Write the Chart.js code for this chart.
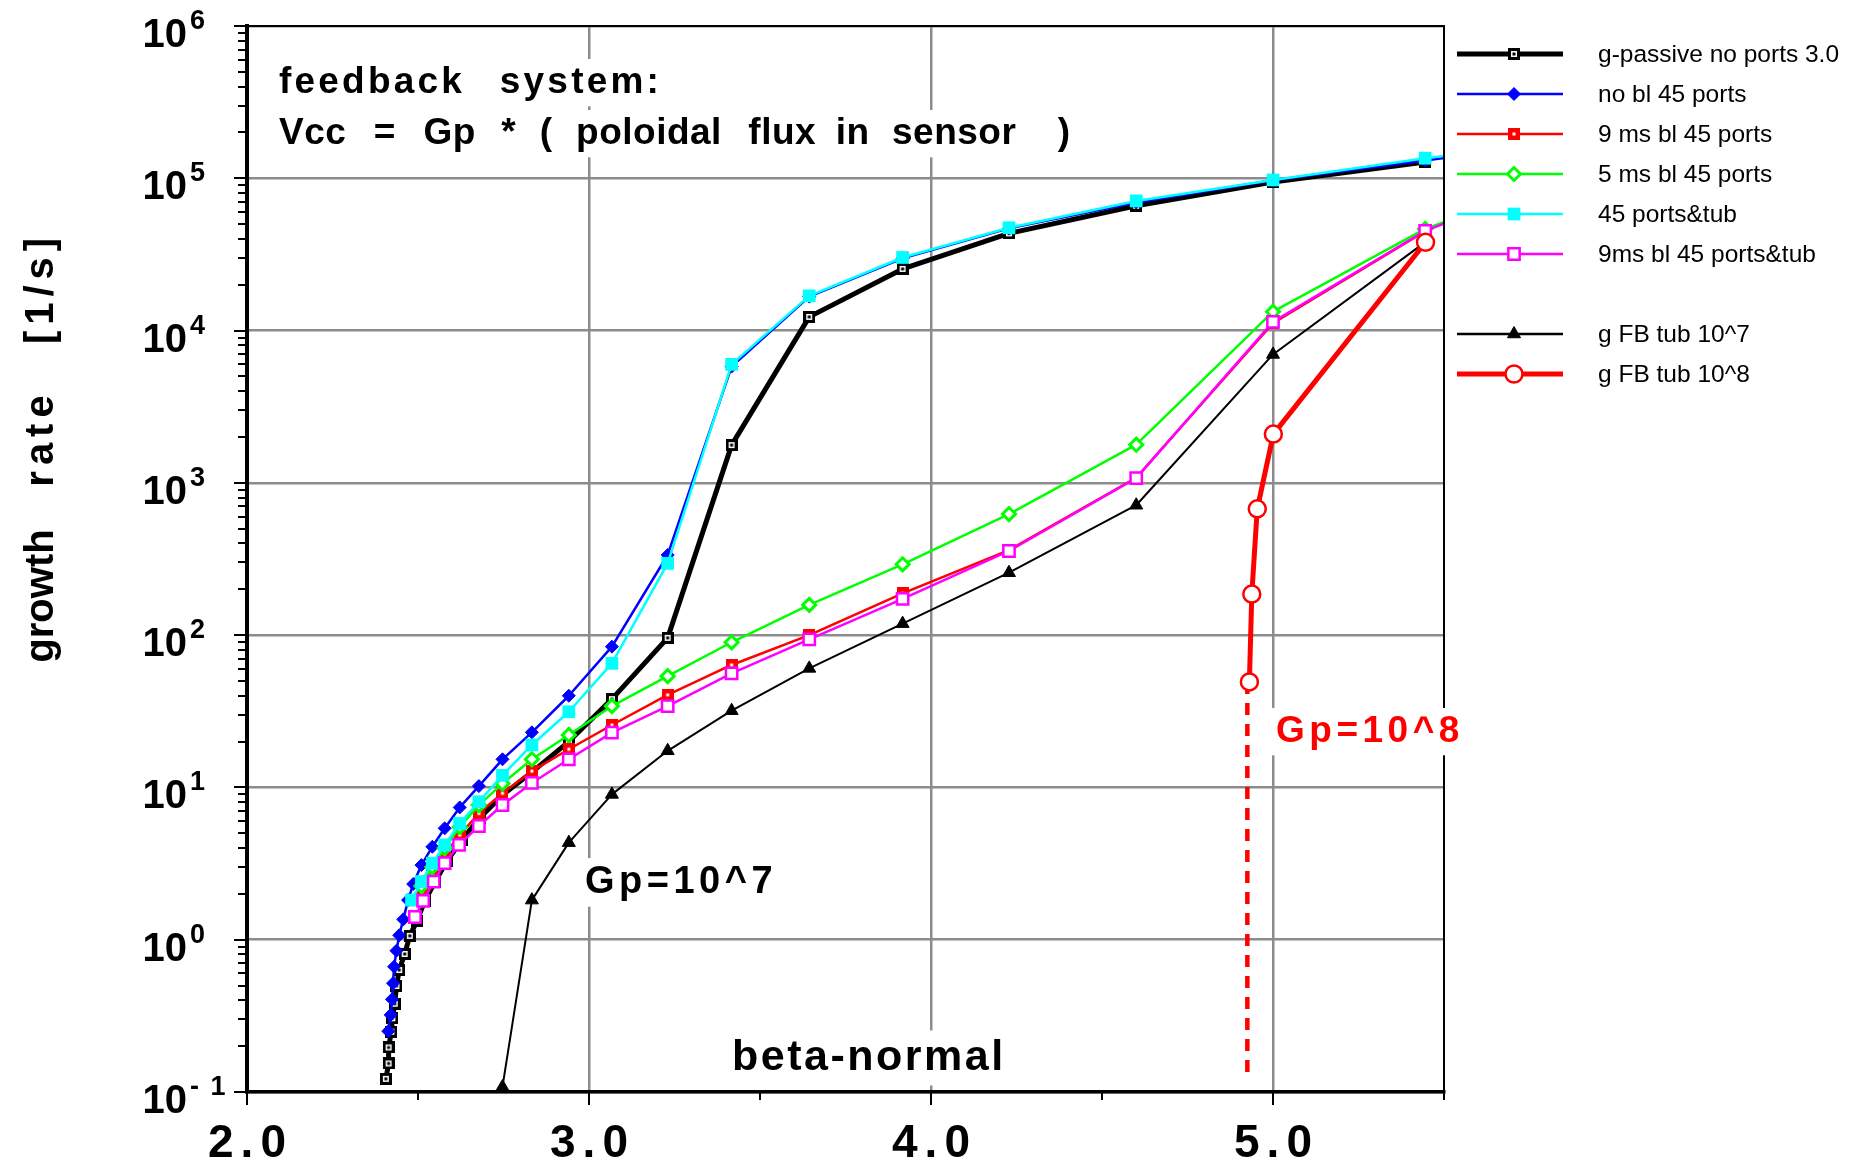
<!DOCTYPE html>
<html>
<head>
<meta charset="utf-8">
<script src="https://cdn.jsdelivr.net/npm/chart.js@4.4.1/dist/chart.umd.min.js"></script>
<style>
html,body{margin:0;padding:0;background:#fff;}
#wrap{width:1864px;height:1162px;position:relative;}
</style>
</head>
<body>
<div id="wrap"><canvas id="c"></canvas></div>
<script>
// ---------------- DATA ----------------
const seriesLabels = [
  'g-passive no ports 3.0',
  'no bl 45 ports',
  '9 ms bl 45 ports',
  '5 ms bl 45 ports',
  '45 ports&tub',
  '9ms bl 45 ports&tub',
  'g FB tub 10^7',
  'g FB tub 10^8'
];

const passiveX = [2.406, 2.414, 2.414, 2.422, 2.425, 2.432, 2.437, 2.445, 2.461, 2.476, 2.497, 2.52, 2.55, 2.585, 2.628, 2.68, 2.747, 2.833, 2.941, 3.067, 3.23, 3.417, 3.644, 3.917, 4.228, 4.6, 5.0, 5.445];
const passiveY = [0.122, 0.154, 0.196, 0.249, 0.305, 0.38, 0.497, 0.632, 0.806, 1.06, 1.33, 1.8, 2.4, 3.3, 4.5, 6.3, 8.9, 12.6, 20, 38, 96, 1770, 12300, 25400, 43500, 66000, 94500, 128000];

const noblX = [2.413, 2.42, 2.424, 2.427, 2.43, 2.437, 2.445, 2.457, 2.471, 2.486, 2.51, 2.542, 2.578, 2.622, 2.678, 2.747, 2.833, 2.941, 3.067, 3.23, 3.417, 3.644, 3.917, 4.228, 4.6, 5.0, 5.445, 5.9];
const noblY = [0.251, 0.321, 0.406, 0.518, 0.665, 0.847, 1.07, 1.36, 1.82, 2.32, 3.09, 4.08, 5.39, 7.39, 10.2, 15.3, 23, 40, 84, 336, 5800, 16700, 29800, 46900, 69300, 97000, 131000, 175000];

const bl9X = [2.512, 2.542, 2.578, 2.622, 2.678, 2.747, 2.833, 2.941, 3.067, 3.23, 3.417, 3.644, 3.917, 4.228, 4.6, 5.0, 5.445];
const bl9Y = [2.07, 2.66, 3.66, 4.87, 6.76, 9.15, 12.8, 17.8, 25.7, 40.5, 63.7, 100, 188, 362, 1080, 11200, 45000];

const bl5X = [2.51, 2.542, 2.578, 2.622, 2.678, 2.747, 2.833, 2.941, 3.067, 3.23, 3.417, 3.644, 3.917, 4.228, 4.6, 5.0, 5.445, 5.9];
const bl5Y = [2.25, 3.0, 4.0, 5.5, 7.66, 10.6, 15.3, 22.1, 34.2, 53.8, 89.8, 158, 292, 624, 1780, 13300, 46500, 110000];

const tubX = [2.481, 2.51, 2.542, 2.578, 2.622, 2.678, 2.747, 2.833, 2.941, 3.067, 3.23, 3.417, 3.644, 3.917, 4.228, 4.6, 5.0, 5.445, 5.9];
const tubY = [1.82, 2.41, 3.18, 4.19, 5.8, 8.05, 12.0, 19, 31.4, 65.3, 296, 6000, 16900, 30200, 47300, 71000, 97500, 135500, 180000];

const bl9tubX = [2.491, 2.515, 2.546, 2.578, 2.62, 2.678, 2.747, 2.833, 2.941, 3.067, 3.23, 3.417, 3.644, 3.917, 4.228, 4.6, 5.0, 5.445, 5.9];
const bl9tubY = [1.41, 1.8, 2.41, 3.18, 4.19, 5.58, 7.67, 10.7, 15.3, 22.9, 34.2, 56.1, 93.8, 173, 357, 1075, 11400, 45200, 110000];

const fb7X = [2.747, 2.833, 2.941, 3.067, 3.23, 3.417, 3.644, 3.917, 4.228, 4.6, 5.0, 5.445];
const fb7Y = [0.108, 1.82, 4.34, 9.0, 17.4, 31.9, 60.5, 119, 257, 713, 6970, 38100];

const fb8X = [4.931, 4.938, 4.954, 5.001, 5.446];
const fb8Y = [49.3, 186, 675, 2090, 38000];

const fb8DashX = [4.925, 4.925];
const fb8DashY = [49.3, 0.124];

const xTickValues = [2.0, 2.5, 3.0, 3.5, 4.0, 4.5, 5.0, 5.5];
const xTickLabels = ['2.0', '', '3.0', '', '4.0', '', '5.0', ''];
const yDecadeExp = [-1, 0, 1, 2, 3, 4, 5, 6];
const yExpLabels = ['- 1', '0', '1', '2', '3', '4', '5', '6'];

// ---------------- HELPERS ----------------
const FONT = '"Liberation Sans", Arial, Helvetica, sans-serif';
function pts(xs, ys) { return xs.map((x, i) => ({x: x, y: ys[i]})); }
function squareDot(fill, stroke, dot, size, lw) {
  const c = document.createElement('canvas');
  c.width = size; c.height = size;
  const g = c.getContext('2d');
  g.fillStyle = fill; g.fillRect(0, 0, size, size);
  g.strokeStyle = stroke; g.lineWidth = lw;
  g.strokeRect(lw / 2, lw / 2, size - lw, size - lw);
  g.fillStyle = dot;
  g.fillRect(size / 2 - 1.5, size / 2 - 1.5, 3, 3);
  return c;
}
const passiveMarker = squareDot('#ffffff', '#000000', '#000000', 12, 3);
const redDotMarker = squareDot('#ff0000', '#ff0000', '#ffffff', 12, 2);
const CLIP = {left: 14, top: 14, right: 0, bottom: 14};

function ds(label, xs, ys, o) {
  return Object.assign({
    label: label, data: pts(xs, ys), showLine: true, tension: 0,
    borderJoinStyle: 'round', clip: CLIP
  }, o);
}

const datasets = [
  ds(seriesLabels[0], passiveX, passiveY, {borderColor: '#000', borderWidth: 5, pointStyle: passiveMarker, pointRadius: 6, order: 9}),
  ds(seriesLabels[1], noblX, noblY, {borderColor: '#0000ff', borderWidth: 2.5, pointStyle: 'rectRot', pointRadius: 6.5, pointBackgroundColor: '#0000ff', pointBorderColor: '#0000ff', pointBorderWidth: 1, order: 8}),
  ds(seriesLabels[2], bl9X, bl9Y, {borderColor: '#ff0000', borderWidth: 2.5, pointStyle: redDotMarker, pointRadius: 6, order: 7}),
  ds(seriesLabels[3], bl5X, bl5Y, {borderColor: '#00ff00', borderWidth: 2.5, pointStyle: 'rectRot', pointRadius: 6.5, pointBackgroundColor: '#ffffff', pointBorderColor: '#00ff00', pointBorderWidth: 3, order: 6}),
  ds(seriesLabels[4], tubX, tubY, {borderColor: '#00ffff', borderWidth: 2.5, pointStyle: 'rect', pointRadius: 9, pointBackgroundColor: '#00ffff', pointBorderColor: '#00ffff', pointBorderWidth: 0, order: 5}),
  ds(seriesLabels[5], bl9tubX, bl9tubY, {borderColor: '#ff00ff', borderWidth: 2.5, pointStyle: 'rect', pointRadius: 8, pointBackgroundColor: '#ffffff', pointBorderColor: '#ff00ff', pointBorderWidth: 2.5, order: 4}),
  ds(seriesLabels[6], fb7X, fb7Y, {borderColor: '#000', borderWidth: 2, pointStyle: 'triangle', pointRadius: 7.5, pointBackgroundColor: '#000', pointBorderColor: '#000', pointBorderWidth: 1, order: 3}),
  ds('g FB tub 10^8 (threshold)', fb8DashX, fb8DashY, {borderColor: '#ff0000', borderWidth: 4.5, borderDash: [12, 9], pointRadius: 0, order: 2, isHelper: true}),
  ds(seriesLabels[7], fb8X, fb8Y, {borderColor: '#ff0000', borderWidth: 5, pointStyle: 'circle', pointRadius: 8.5, pointBackgroundColor: '#ffffff', pointBorderColor: '#ff0000', pointBorderWidth: 2.5, order: 1})
];

function isDecade(v) {
  const l = Math.log10(v);
  return Math.abs(l - Math.round(l)) < 1e-9;
}

function drawMarker(ctx, d, x, y) {
  const ps = d.pointStyle;
  if (ps instanceof HTMLCanvasElement) {
    ctx.drawImage(ps, x - ps.width / 2, y - ps.height / 2);
    return;
  }
  const r = d.pointRadius;
  ctx.beginPath();
  if (ps === 'circle') {
    ctx.arc(x, y, r, 0, Math.PI * 2);
  } else if (ps === 'rect') {
    const s = r * Math.SQRT1_2;
    ctx.rect(x - s, y - s, 2 * s, 2 * s);
  } else if (ps === 'rectRot') {
    ctx.moveTo(x - r, y); ctx.lineTo(x, y - r); ctx.lineTo(x + r, y); ctx.lineTo(x, y + r); ctx.closePath();
  } else if (ps === 'triangle') {
    let a = 0;
    ctx.moveTo(x + Math.sin(a) * r, y - Math.cos(a) * r);
    a += 2 * Math.PI / 3; ctx.lineTo(x + Math.sin(a) * r, y - Math.cos(a) * r);
    a += 2 * Math.PI / 3; ctx.lineTo(x + Math.sin(a) * r, y - Math.cos(a) * r);
    ctx.closePath();
  }
  ctx.fillStyle = d.pointBackgroundColor;
  ctx.fill();
  if (d.pointBorderWidth > 0) {
    ctx.lineWidth = d.pointBorderWidth;
    ctx.strokeStyle = d.pointBorderColor;
    ctx.stroke();
  }
}

// draws words separated by fixed gaps on a white box
function boxedTokens(ctx, tokens, gaps, x, base, size, color, ls) {
  ctx.font = 'bold ' + size + 'px ' + FONT;
  ctx.letterSpacing = ls + 'px';
  ctx.textAlign = 'left';
  ctx.textBaseline = 'alphabetic';
  const xs = [];
  let cx = x;
  tokens.forEach((t, i) => {
    xs.push(cx);
    cx += ctx.measureText(t).width - ls + (i < gaps.length ? gaps[i] : 0);
  });
  ctx.fillStyle = '#ffffff';
  ctx.fillRect(x - 6, base - size * 0.92, cx - x + 12, size * 1.28);
  ctx.fillStyle = color;
  tokens.forEach((t, i) => ctx.fillText(t, xs[i], base));
  ctx.letterSpacing = '0px';
}

const decor = {
  id: 'decor',
  afterDraw(chart) {
    const ctx = chart.ctx, a = chart.chartArea;
    const xs = chart.scales.x, ys = chart.scales.y;
    ctx.save();
    // top and right frame
    ctx.strokeStyle = '#000'; ctx.lineWidth = 2;
    ctx.beginPath();
    ctx.moveTo(a.left, a.top); ctx.lineTo(a.right, a.top); ctx.lineTo(a.right, a.bottom);
    ctx.stroke();

    // tick marks
    ctx.lineWidth = 2; ctx.strokeStyle = '#000';
    ys.ticks.forEach(t => {
      const py = Math.round(ys.getPixelForValue(t.value));
      const len = isDecade(t.value) ? 12 : 8;
      ctx.beginPath(); ctx.moveTo(a.left - 1 - len, py); ctx.lineTo(a.left, py); ctx.stroke();
    });
    xs.ticks.forEach(t => {
      const px = Math.round(xs.getPixelForValue(t.value));
      const len = Number.isInteger(t.value) ? 12 : 7;
      ctx.beginPath(); ctx.moveTo(px, a.bottom); ctx.lineTo(px, a.bottom + 1 + len); ctx.stroke();
    });

    // x tick labels
    ctx.fillStyle = '#000';
    ctx.font = 'bold 46px ' + FONT;
    ctx.letterSpacing = '7px';
    ctx.textAlign = 'center';
    ctx.textBaseline = 'alphabetic';
    xTickValues.forEach((v, i) => {
      if (!xTickLabels[i]) return;
      ctx.fillText(xTickLabels[i], xs.getPixelForValue(v) + 3.5, a.bottom + 65);
    });
    ctx.letterSpacing = '0px';

    // y tick labels 10^n
    yDecadeExp.forEach((e, i) => {
      const py = ys.getPixelForValue(Math.pow(10, e));
      ctx.font = 'bold 40px ' + FONT;
      ctx.textAlign = 'right';
      ctx.fillText('10', 187, py + 21);
      ctx.font = 'bold 27px ' + FONT;
      ctx.textAlign = 'left';
      ctx.letterSpacing = e < 0 ? '2px' : '0px';
      ctx.fillText(yExpLabels[i], 190, py + 3);
      ctx.letterSpacing = '0px';
    });

    // y axis title (rotated)
    ctx.save();
    ctx.translate(53, 0);
    ctx.rotate(-Math.PI / 2);
    ctx.font = 'bold 40px ' + FONT;
    ctx.textAlign = 'center';
    ctx.fillText('growth', -596, 0);
    ctx.letterSpacing = '6px';
    ctx.fillText('rate', -441 + 3, 0);
    ctx.fillText('[1/s]', -291 + 3, 0);
    ctx.letterSpacing = '0px';
    ctx.restore();

    // annotations
    boxedTokens(ctx, ['feedback', 'system:'], [38], 279, 93, 37, '#000', 3.2);
    boxedTokens(ctx, ['Vcc', '=', 'Gp', '*', '(', 'poloidal', 'flux', 'in', 'sensor', ')'],
      [28, 28, 26, 24, 24, 27, 20, 23, 42], 279, 144, 37, '#000', 0.5);
    boxedTokens(ctx, ['Gp=10^7'], [], 585, 893, 38, '#000', 4.5);
    boxedTokens(ctx, ['Gp=10^8'], [], 1276, 742, 37, '#ff0000', 4.5);
    boxedTokens(ctx, ['beta-normal'], [], 732, 1070, 43, '#000', 2.5);

    // legend
    const rows = [54, 94, 134, 174, 214, 254, 334, 374];
    const legendSets = chart.data.datasets.filter(d => !d.isHelper);
    legendSets.forEach((d, i) => {
      const y = rows[i];
      ctx.strokeStyle = d.borderColor;
      ctx.lineWidth = d.borderWidth >= 4 ? 5 : 2.5;
      ctx.setLineDash([]);
      ctx.beginPath(); ctx.moveTo(1457, y); ctx.lineTo(1563, y); ctx.stroke();
      drawMarker(ctx, d, 1514, y);
      ctx.fillStyle = '#000';
      ctx.font = '24.5px ' + FONT;
      ctx.textAlign = 'left';
      ctx.textBaseline = 'middle';
      ctx.fillText(d.label, 1598, y + 1);
      ctx.textBaseline = 'alphabetic';
    });
    ctx.restore();
  }
};

new Chart(document.getElementById('c'), {
  type: 'scatter',
  data: {datasets: datasets},
  options: {
    responsive: true,
    maintainAspectRatio: false,
    animation: false,
    events: [],
    layout: {padding: {top: 26, right: 420, bottom: 0, left: 0}},
    plugins: {legend: {display: false}, tooltip: {enabled: false}},
    scales: {
      x: {
        type: 'linear', min: 2, max: 5.5,
        afterBuildTicks: s => { s.ticks = xTickValues.map(v => ({value: v})); },
        afterFit: s => { s.height = 70; },
        grid: {
          color: c => (c.tick && Number.isInteger(c.tick.value) ? '#8c8c8c' : 'rgba(0,0,0,0)'),
          lineWidth: 2.5, drawTicks: false
        },
        border: {color: '#000', width: 3.5},
        ticks: {display: false}
      },
      y: {
        type: 'logarithmic', min: 0.1, max: 1e6,
        afterBuildTicks: s => {
          const t = [];
          for (let e = -1; e < 6; e++) {
            for (let m = 1; m < 10; m++) t.push({value: Number((m * Math.pow(10, e)).toPrecision(6))});
          }
          t.push({value: 1e6});
          s.ticks = t;
        },
        afterFit: s => { s.width = 247; },
        grid: {
          color: c => (c.tick && isDecade(c.tick.value) ? '#8c8c8c' : 'rgba(0,0,0,0)'),
          lineWidth: 2.5, drawTicks: false
        },
        border: {color: '#000', width: 4},
        ticks: {display: false}
      }
    }
  },
  plugins: [decor]
});
</script>
</body>
</html>
